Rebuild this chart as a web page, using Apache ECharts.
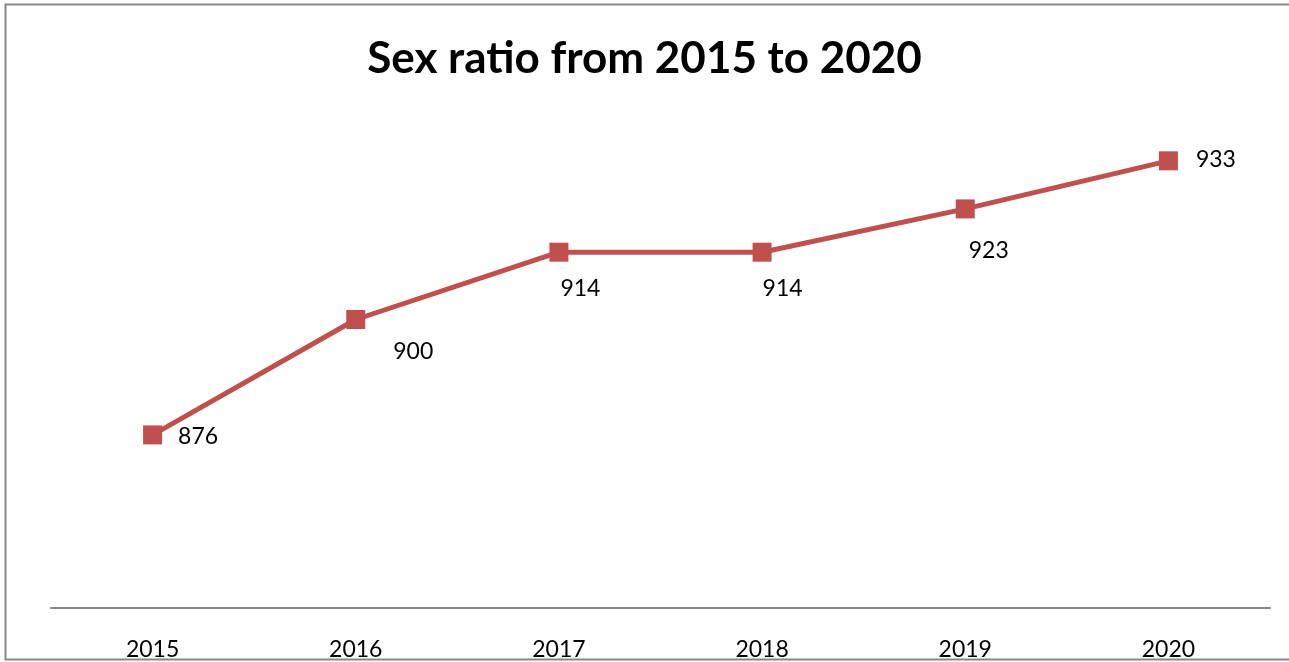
<!DOCTYPE html>
<html>
<head>
<meta charset="utf-8">
<script src="https://cdn.jsdelivr.net/npm/echarts@6/dist/echarts.min.js"></script>
<style>
html,body{margin:0;padding:0;background:#fff;}
#chart{width:1289px;height:662px;}
</style>
</head>
<body>
<div id="chart"></div>
<script>
const titleText = 'Sex ratio from 2015 to 2020';
const years = ['2015', '2016', '2017', '2018', '2019', '2020'];
const sexRatio = [876, 900, 914, 914, 923, 933];
// label offsets (style only) relative to the default right-side label position
const labelOffsets = [[16, 2], [28, 32], [-8, 36], [-9, 36], [-6, 42], [18, -1]];

const chart = echarts.init(document.getElementById('chart'));
const seriesData = sexRatio.map((v, i) => ({
  value: v,
  label: { offset: labelOffsets[i] }
}));

chart.setOption({
  animation: false,
  backgroundColor: '#ffffff',
  title: {
    text: titleText,
    left: 'center',
    top: 28,
    textStyle: { fontFamily: 'Lato', fontWeight: 'bold', fontSize: 44, color: '#000', lineHeight: 52 }
  },
  graphic: [{
    type: 'rect',
    shape: { x: 5.5, y: 4.5, width: 1300, height: 655 },
    style: { fill: 'none', stroke: '#878787', lineWidth: 2 },
    silent: true,
    z: 100
  }],
  grid: { left: 51, right: 19, top: 31, bottom: 54, containLabel: false },
  xAxis: {
    type: 'category',
    data: years,
    boundaryGap: true,
    axisLine: { show: true, lineStyle: { color: '#868686', width: 2 } },
    axisTick: { show: false },
    axisLabel: { fontFamily: 'Lato', fontSize: 23, color: '#000', margin: 30, lineHeight: 24 }
  },
  yAxis: {
    type: 'value',
    min: 840,
    max: 960,
    interval: 20,
    show: false,
    splitLine: { show: false }
  },
  series: [{
    type: 'line',
    data: seriesData,
    symbol: 'rect',
    symbolSize: 19,
    lineStyle: { color: '#C0504D', width: 5 },
    itemStyle: { color: '#C0504D' },
    label: {
      show: true,
      position: 'right',
      distance: 0,
      fontFamily: 'Lato',
      fontSize: 23,
      color: '#000'
    }
  }]
});
</script>
</body>
</html>
